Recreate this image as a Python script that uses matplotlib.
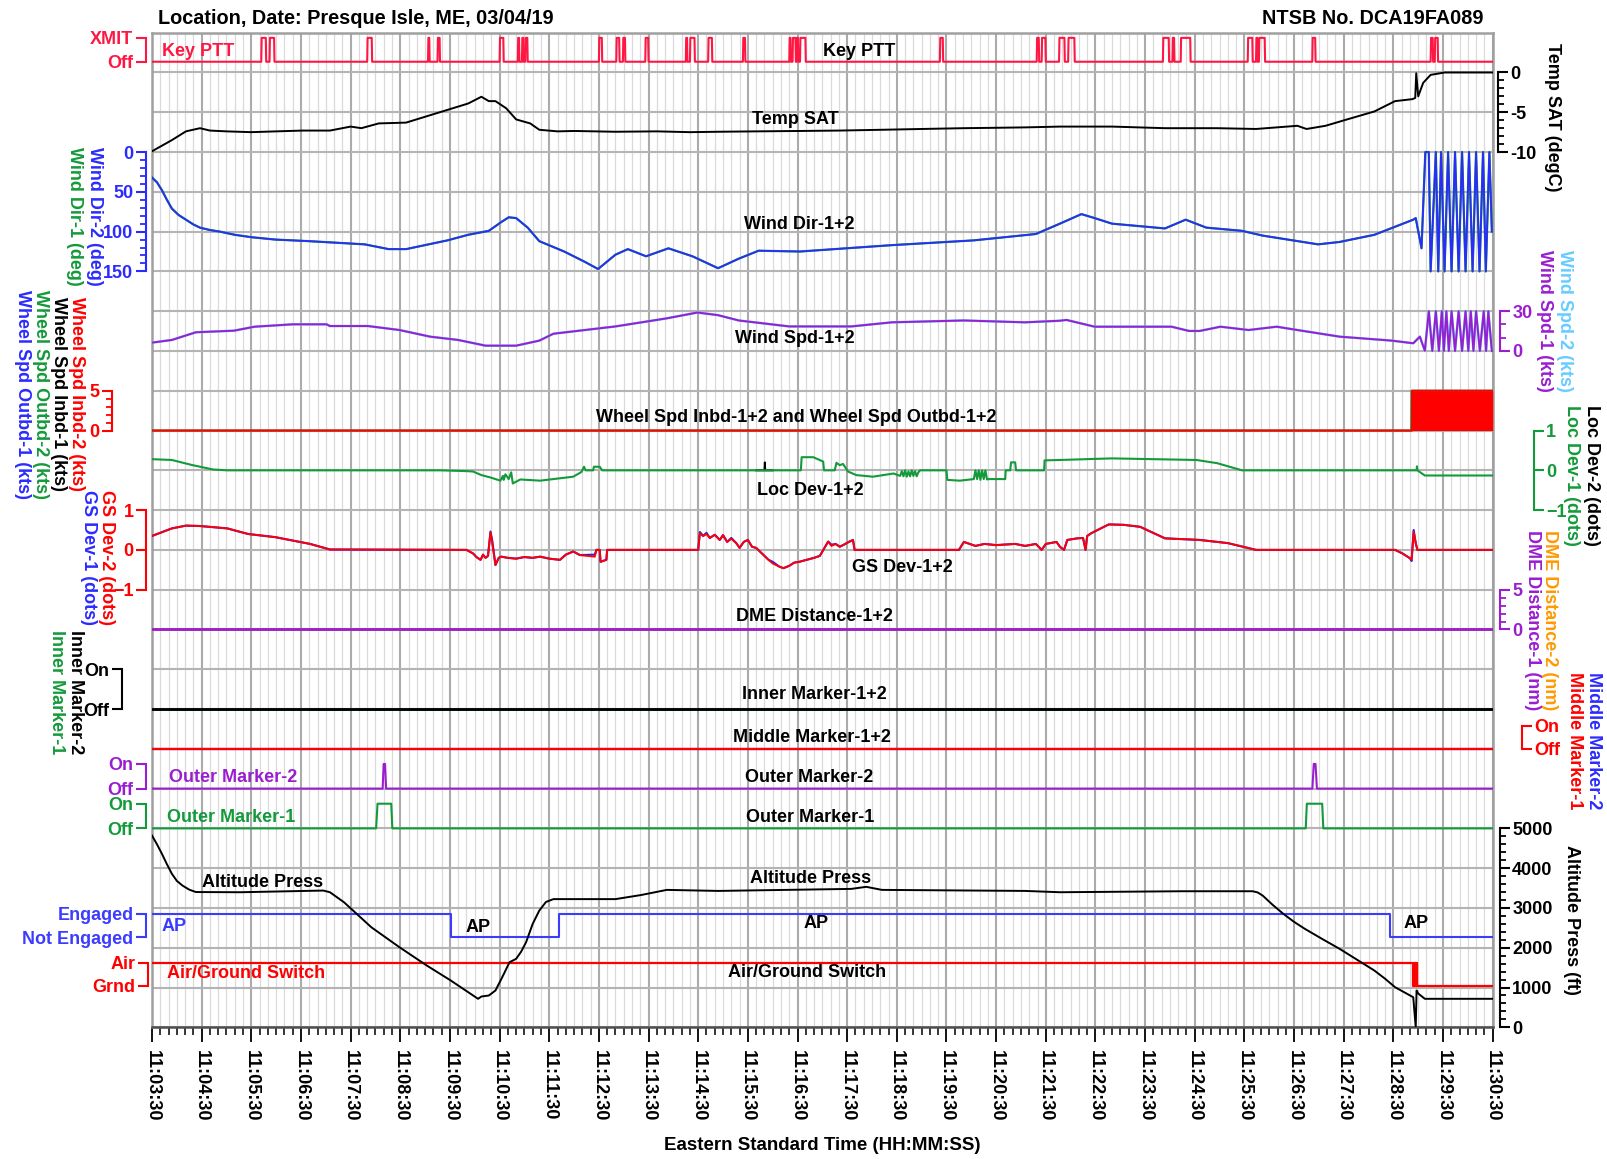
import numpy as np
import matplotlib.pyplot as plt

plt.rcParams['font.family'] = ['Liberation Sans', 'DejaVu Sans']
plt.rcParams['font.weight'] = 'bold'
plt.rcParams['font.size'] = 13

# ---------------- data (time = seconds after 11:00:00 EST) ----------------
time_labels = ['11:%02d:30' % m for m in range(3, 31)]

ptt_on = [342, 352, 470, 543.5, 555, 630, 652, 657, 661, 750, 771, 779, 806, 855, 860, 882,
          924, 980, 984, 989, 993, 1162, 1279, 1285, 1306, 1317, 1431.5, 1443, 1453, 1534,
          1544, 1547.5, 1612, 1755, 1760]
ptt_off = [348, 358, 476, 545.5, 558, 635, 654, 659, 664, 754, 775, 782, 810, 857, 866, 887,
           927, 982, 988, 991, 1000, 1166, 1282, 1290, 1313, 1325, 1439, 1445.5, 1465, 1540,
           1546, 1555, 1616, 1758, 1764]

temp_t = [210, 222, 234, 251, 268, 280, 300, 330, 360, 392, 425, 450, 463, 484, 517, 542, 567,
          592, 608, 617, 625, 638, 650, 667, 678, 700, 720, 770, 820, 860, 894, 940, 993, 1040,
          1092, 1140, 1191, 1230, 1265, 1307, 1370, 1434, 1497, 1544, 1569, 1594, 1605, 1628,
          1654, 1687, 1712, 1733, 1736.4, 1737.6, 1740, 1746, 1755, 1772, 1830]
temp_sat = [-9.9, -9.2, -8.5, -7.4, -7.0, -7.3, -7.4, -7.5, -7.4, -7.3, -7.3, -6.8, -7.0, -6.4,
            -6.3, -5.5, -4.7, -3.9, -3.05, -3.6, -3.6, -4.5, -5.9, -6.4, -7.2, -7.4, -7.35,
            -7.45, -7.4, -7.5, -7.45, -7.4, -7.35, -7.3, -7.2, -7.1, -7.0, -6.95, -6.9, -6.8,
            -6.8, -7.0, -7.0, -7.1, -6.9, -6.7, -7.1, -6.7, -5.9, -4.9, -3.6, -3.35, -3.2, -0.1,
            -3.0, -1.3, -0.3, 0.0, 0.0]

wdir_t = [210, 216, 222, 228, 234, 242, 251, 260, 268, 280, 292, 310, 330, 359, 400, 467, 496,
          517, 567, 592, 617, 632, 641, 650, 664, 678, 708, 733, 749, 770, 785, 807, 834, 863,
          894, 919, 943, 993, 1104, 1203, 1278, 1307, 1333, 1349, 1370, 1434, 1459, 1484, 1527,
          1552, 1619, 1645, 1687, 1734, 1737, 1744, 1748.6, 1752.8, 1755, 1761.3, 1764.2,
          1767.6, 1771.8, 1776.1, 1780.3, 1784.5, 1788.8, 1793, 1797.2, 1801.4, 1805.7, 1809.9,
          1814.1, 1818.3, 1821.7, 1826, 1829]
wind_dir = [32, 38, 48, 60, 71, 79, 85, 91, 95, 98, 100, 104, 107, 110, 112, 116, 122, 122,
            111, 104, 99, 88, 82, 83, 95, 112, 125, 138, 147, 129, 122, 131, 121, 131, 146, 134,
            124, 125, 117, 111, 103, 90, 78, 83, 90, 96, 85, 95, 99, 105, 116, 113, 104, 85, 83,
            121, 0, 0, 150, 0, 150, 0, 150, 0, 150, 0, 150, 0, 150, 0, 150, 0, 150, 0, 150, 0,
            100]

wspd_t = [210, 234, 263, 309, 334, 380, 421, 425, 471, 509, 546, 580, 613, 650, 678, 695, 770,
          832, 869, 894, 919, 980, 1055, 1104, 1191, 1265, 1307, 1315, 1349, 1442, 1463, 1476,
          1501, 1535, 1569, 1594, 1645, 1708, 1734, 1742, 1748, 1752.8, 1757, 1761.3, 1765,
          1768.5, 1771, 1774, 1777, 1780.3, 1784.5, 1788.8, 1793, 1797.2, 1800.5, 1803.5,
          1806.7, 1809.9, 1814.5, 1819.2, 1822, 1824.7, 1829]
wind_spd = [6.3, 8.3, 14.1, 15.3, 18.3, 20.1, 20.1, 18.8, 18.8, 15.8, 10.8, 8.3, 4.0, 4.0, 7.8,
            13, 18.5, 24.6, 29, 27, 23, 18.5, 18.5, 21.6, 23, 21.6, 22.8, 23.4, 18.3, 18.3, 15.1,
            15.1, 18.3, 15.8, 18.3, 15.8, 10.8, 7.8, 5.8, 10.8, 0.2, 30, 0, 30, 0, 30, 0, 30, 0,
            30, 0, 30, 0, 30, 0, 30, 0, 30, 0, 30, 0, 30, 0]

wheel_t = [210, 1732.5, 1732.6, 1830]
wheel_inbd2 = [0, 0, 5, 5]
wheel_outbd2_t = [210, 1731.5, 1731.8, 1830]
wheel_outbd2 = [0, 0, 5, 5]

loc_t = [210, 234, 259, 284, 301, 558, 590, 598, 608, 619, 631, 634, 635, 637, 641, 644, 646,
         655, 679, 719, 729, 732, 734, 743, 744, 751, 754, 994, 995, 1009, 1021, 1022, 1035,
         1037, 1041, 1045, 1051, 1061, 1081, 1106, 1114, 1116, 1118, 1120, 1122, 1124, 1126,
         1128, 1130, 1132, 1134, 1136, 1138, 1170, 1171, 1186, 1203, 1205, 1207, 1209, 1211,
         1213, 1215, 1217, 1219, 1221, 1241, 1241.5, 1247, 1248, 1253, 1254, 1288, 1288.5,
         1307, 1370, 1472, 1497, 1527, 1738, 1738.5, 1739, 1748, 1830]
loc_dev1 = [0.28, 0.26, 0.13, 0.02, 0.0, 0.0, -0.02, -0.03, -0.12, -0.18, -0.26, -0.14, -0.24,
            -0.1, -0.22, -0.05, -0.33, -0.23, -0.26, -0.16, -0.04, 0.09, 0.0, 0.0, 0.09, 0.09,
            0.0, 0.0, 0.33, 0.33, 0.22, 0.0, 0.0, 0.19, 0.13, 0.16, -0.03, -0.12, -0.16, -0.08,
            -0.14, -0.02, -0.15, 0.0, -0.16, -0.03, -0.15, 0.0, -0.14, -0.02, -0.15, -0.05, 0.0,
            0.0, -0.24, -0.26, -0.22, 0.0, -0.22, 0.0, -0.24, 0.0, -0.22, 0.0, -0.23, -0.22,
            -0.22, 0.0, 0.0, 0.2, 0.2, 0.0, 0.0, 0.25, 0.26, 0.30, 0.26, 0.18, 0.0, 0.0, 0.1,
            0.0, -0.13, -0.13]
loc2_t = [940, 950, 950.5, 951, 960]
loc_dev2 = [0, 0, 0.2, 0, 0]

gs_t = [210, 234, 251, 268, 301, 326, 359, 401, 425, 590, 598, 602, 607, 610, 613, 616, 619,
        621, 625, 629, 632, 640, 650, 660, 670, 679, 690, 703, 710, 719, 727, 745, 747, 751,
        752, 759, 760, 870, 872, 876, 880, 884, 890, 896, 900, 905, 910, 916, 920, 925, 930,
        935, 940, 945, 950, 955, 960, 968, 973, 980, 986, 992, 1001, 1010, 1017, 1027, 1031,
        1036, 1041, 1045, 1052, 1057, 1059, 1185, 1191, 1205, 1216, 1230, 1253, 1265, 1278,
        1285, 1290, 1303, 1307, 1312, 1316, 1328, 1335, 1338, 1340, 1345, 1366, 1384, 1404,
        1434, 1476, 1510, 1544, 1712, 1721, 1730, 1732, 1734.5, 1737, 1739, 1830]
gs_dev2 = [0.35, 0.54, 0.61, 0.60, 0.54, 0.40, 0.32, 0.15, 0.01, 0.0, -0.09, -0.18, -0.25,
           -0.12, -0.2, -0.15, 0.44, 0.2, -0.38, -0.2, -0.17, -0.2, -0.22, -0.18, -0.2, -0.17,
           -0.22, -0.25, -0.12, -0.04, -0.13, -0.17, 0.0, 0.0, -0.3, -0.25, 0.0, 0.0, 0.42,
           0.35, 0.4, 0.3, 0.38, 0.25, 0.37, 0.2, 0.28, 0.17, 0.05, 0.2, 0.25, 0.08, 0.05,
           -0.05, -0.15, -0.25, -0.34, -0.42, -0.46, -0.4, -0.32, -0.3, -0.25, -0.2, -0.15,
           0.21, 0.1, 0.15, 0.08, 0.12, 0.2, 0.25, 0.0, 0.0, 0.2, 0.1, 0.15, 0.12, 0.15, 0.1,
           0.15, 0.0, 0.15, 0.2, 0.08, 0.0, 0.25, 0.29, 0.3, 0.0, 0.35, 0.42, 0.64, 0.63, 0.58,
           0.29, 0.25, 0.17, 0.0, 0.0, -0.09, -0.21, -0.25, 0.46, 0.17, 0.0, 0.0]
gs_dev1 = [0.35, 0.54, 0.61, 0.60, 0.54, 0.40, 0.32, 0.15, 0.01, 0.0, -0.09, -0.18, -0.25,
           -0.12, -0.2, -0.15, 0.46, 0.25, -0.38, -0.2, -0.17, -0.2, -0.22, -0.18, -0.2, -0.17,
           -0.22, -0.25, -0.12, -0.04, -0.13, -0.12, 0.0, 0.0, -0.3, -0.25, 0.0, 0.0, 0.45,
           0.35, 0.43, 0.3, 0.38, 0.25, 0.37, 0.2, 0.3, 0.17, 0.05, 0.2, 0.25, 0.08, 0.05,
           -0.05, -0.15, -0.25, -0.3, -0.42, -0.46, -0.4, -0.32, -0.3, -0.25, -0.2, -0.15,
           0.21, 0.13, 0.15, 0.08, 0.12, 0.2, 0.25, 0.0, 0.0, 0.2, 0.1, 0.15, 0.12, 0.15, 0.1,
           0.15, 0.0, 0.15, 0.2, 0.08, 0.0, 0.25, 0.29, 0.3, 0.0, 0.35, 0.42, 0.64, 0.63, 0.58,
           0.29, 0.25, 0.17, 0.0, 0.0, -0.09, -0.21, -0.28, 0.5, 0.17, 0.0, 0.0]

flat_t = [210, 1830]
dme_dist = [0, 0]
inner_marker = [0, 0]
middle_marker = [0, 0]

om2_t = [210, 488.7, 489.9, 491.6, 492.9, 1612.1, 1613.8, 1615.9, 1617.6, 1830]
outer_marker2 = [0, 0, 1, 1, 0, 0, 1, 1, 0, 0]
om1_t = [210, 480.8, 482.5, 499.1, 500.4, 1604.1, 1605.4, 1624.0, 1625.3, 1830]
outer_marker1 = [0, 0, 1, 1, 0, 0, 1, 1, 0, 0]

alt_t = [210, 216, 222, 228, 234, 240, 247, 255, 263, 317, 417, 425, 442, 475, 509, 542, 571,
         604, 608, 617, 625, 633, 642, 650, 656, 662, 670, 678, 686, 695, 770, 801, 832, 894,
         1055, 1073, 1092, 1265, 1307, 1455, 1540, 1546, 1552, 1564, 1577, 1590, 1603, 1624,
         1645, 1666, 1687, 1700, 1712, 1724, 1734, 1737, 1738, 1740, 1748, 1830]
alt_press = [4820, 4600, 4360, 4100, 3860, 3680, 3560, 3460, 3400, 3395, 3437, 3395, 3143, 2515,
             2013, 1553, 1176, 716, 774, 799, 925, 1250, 1636, 1721, 1900, 2138, 2600, 2935,
             3150, 3222, 3222, 3325, 3454, 3428, 3479, 3531, 3454, 3428, 3395, 3420, 3420, 3390,
             3312, 3080, 2852, 2650, 2475, 2220, 1972, 1700, 1427, 1220, 1008, 870, 756, 0, 925,
             850, 716, 716]

ap_t = [210, 571, 702, 1706, 1830]
ap_engaged = [1, 0, 1, 0, 0]

gnd_t = [210, 1734, 1734.8, 1735.6, 1736.4, 1737.2, 1738, 1738.8, 1830]
air_ground = [1, 0, 1, 0, 1, 0, 1, 0, 0]

# ---------------- colours ----------------
KEYRED = '#ff1744'
RED = '#ff0000'
BLUE = '#2b2bff'
APBLUE = '#3c3cff'
GREEN = '#139a3a'
PURPLE = '#9a1ed0'
LTBLUE = '#66ccff'
ORANGE = '#ff9900'
BLACK = '#000000'

# ---------------- layout ----------------
W, H = 1608, 1159
L, R, T, B = 152, 1492.7, 32.7, 1027.3
ROWS = 25
T0, T1 = 210, 1830

fig = plt.figure(figsize=(W / 100, H / 100), dpi=100)
rect = [L / W, 1 - B / H, (R - L) / W, (B - T) / H]
ax = fig.add_axes(rect)
ax.set_xlim(T0, T1)
ax.set_ylim(ROWS, 0)
ax.set_xticks(np.arange(T0, T1 + 1, 60))
ax.set_xticks(np.arange(T0, T1 + 1, 10), minor=True)
ax.set_xticklabels(time_labels, rotation=-90, fontsize=13)
ax.set_yticks(np.arange(0, ROWS + 1))
ax.tick_params(axis='y', left=False, labelleft=False)
ax.tick_params(axis='x', which='major', length=11, width=1.3, pad=5, color='black')
ax.tick_params(axis='x', which='minor', length=6, width=1.1, color='black')
ax.grid(axis='x', which='major', color='#ababab', lw=1.5)
ax.grid(axis='x', which='minor', color='#dadada', lw=0.9)
ax.grid(axis='y', which='major', color='#b4b4b4', lw=1.5)
for s in ax.spines.values():
    s.set_color('#a0a0a0')
    s.set_linewidth(1.8)
ax.spines['bottom'].set_color('#505050')


def band(v1, r1, v2, r2, side, color, out_px, ticks, labels=None, minor=None):
    a = fig.add_axes(rect, sharex=ax)
    a.patch.set_visible(False)
    s = (v2 - v1) / (r2 - r1)
    a.set_ylim(v1 + s * (ROWS - r1), v1 + s * (0 - r1))
    for k in a.spines:
        a.spines[k].set_visible(False)
    sp = a.spines[side]
    sp.set_visible(True)
    sp.set_position(('outward', out_px * 0.72))
    sp.set_bounds(min(v1, v2), max(v1, v2))
    sp.set_color(color)
    sp.set_linewidth(1.5)
    a.yaxis.set_ticks_position(side)
    a.set_yticks(ticks)
    if labels is not None:
        a.set_yticklabels(labels)
    if minor is not None:
        a.set_yticks(minor, minor=True)
    a.tick_params(axis='y', which='major', colors=color, length=7, width=1.5, pad=2,
                  labelsize=13)
    a.tick_params(axis='y', which='minor', colors=color, length=4, width=1.3)
    a.tick_params(axis='x', which='both', bottom=False, top=False, labelbottom=False)
    return a


# Key PTT
a = band(0, 0.73, 1, 0.13, 'left', KEYRED, 6, [0, 1], ['Off', 'XMIT'])
pt, pv = [T0], [0]
for on, off in zip(ptt_on, ptt_off):
    pt += [on, on + 0.5, off - 0.5, off]
    pv += [0, 1, 1, 0]
pt.append(T1)
pv.append(0)
a.plot(pt, pv, color=KEYRED, lw=1.5)

# Temp SAT
a = band(0, 1, -10, 3, 'right', BLACK, 5, [0, -5, -10], ['0', '-5', '-10'],
         minor=np.arange(-9, 0))
a.plot(temp_t, temp_sat, color=BLACK, lw=1.4)

# Wind Dir
a = band(0, 3, 150, 6, 'left', BLUE, 6, [0, 50, 100, 150], minor=np.arange(10, 150, 10))
a.plot(wdir_t, wind_dir, color=GREEN, lw=1.6)
a.plot(wdir_t, wind_dir, color=BLUE, lw=1.3)

# Wind Spd
a = band(0, 8, 30, 7, 'right', PURPLE, 7, [0, 30], minor=[10, 20])
a.plot(wspd_t, wind_spd, color=LTBLUE, lw=1.8)
a.plot(wspd_t, wind_spd, color=PURPLE, lw=1.4)

# Wheel speeds
a = band(0, 10, 5, 9, 'left', RED, 40, [0, 5], minor=[1, 2, 3, 4])
a.plot(wheel_outbd2_t, wheel_outbd2, color=GREEN, lw=1.5)
a.fill_between(wheel_t, 0, wheel_inbd2, color=RED, lw=0)
a.plot(wheel_t, wheel_inbd2, color=RED, lw=1.5)

# Loc Dev
a = band(1, 10, -1, 12, 'right', GREEN, 41, [-1, 0, 1])
a.plot(loc2_t, loc_dev2, color=BLACK, lw=1.4)
a.plot(loc_t, loc_dev1, color=GREEN, lw=1.5)

# GS Dev
a = band(1, 12, -1, 14, 'left', RED, 6, [-1, 0, 1])
a.plot(gs_t, gs_dev1, color='#1f1fff', lw=1.5)
a.plot(gs_t, gs_dev2, color=RED, lw=1.4)

# DME Distance
a = band(0, 15, 5, 14, 'right', PURPLE, 7, [0, 5], minor=[1, 2, 3, 4])
a.plot(flat_t, dme_dist, color=ORANGE, lw=2)
a.plot(flat_t, dme_dist, color=PURPLE, lw=2)

# Inner Marker
a = band(0, 17, 1, 16, 'left', BLACK, 30, [0, 1], ['Off', 'On'])
a.plot(flat_t, inner_marker, color=GREEN, lw=2)
a.plot(flat_t, inner_marker, color=BLACK, lw=2)

# Middle Marker
a = band(0, 18, 1, 17.42, 'right', RED, 29, [0, 1], ['Off', 'On'])
a.plot(flat_t, middle_marker, color=BLUE, lw=1.6)
a.plot(flat_t, middle_marker, color=RED, lw=1.6)

# Outer Markers
a = band(0, 19, 1, 18.38, 'left', PURPLE, 6, [0, 1], ['Off', 'On'])
a.plot(om2_t, outer_marker2, color=PURPLE, lw=1.5)
a = band(0, 20, 1, 19.38, 'left', GREEN, 6, [0, 1], ['Off', 'On'])
a.plot(om1_t, outer_marker1, color=GREEN, lw=1.5)

# AP
a = band(0, 22.74, 1, 22.15, 'left', APBLUE, 6, [0, 1], ['Not Engaged', 'Engaged'])
a.step(ap_t, ap_engaged, where='post', color=APBLUE, lw=1.5)

# Air/Ground
a = band(0, 23.95, 1, 23.38, 'left', RED, 4, [0, 1], ['Grnd', 'Air'])
a.step(gnd_t, air_ground, where='post', color=RED, lw=1.6)

# Altitude Press
a = band(0, 25, 5000, 20, 'right', BLACK, 7, np.arange(0, 5001, 1000),
         minor=np.arange(200, 5000, 200))
a.plot(alt_t, alt_press, color=BLACK, lw=1.4)

# ---------------- labels inside the plot ----------------
inside = [
    ('Key PTT', 222, 0.47, KEYRED, 'left'),
    ('Key PTT', 1064, 0.47, BLACK, 'center'),
    ('Temp SAT', 987, 2.19, BLACK, 'center'),
    ('Wind Dir-1+2', 992, 4.82, BLACK, 'center'),
    ('Wind Spd-1+2', 987, 7.69, BLACK, 'center'),
    ('Wheel Spd Inbd-1+2 and Wheel Spd Outbd-1+2', 989, 9.67, BLACK, 'center'),
    ('Loc Dev-1+2', 1005, 11.5, BLACK, 'center'),
    ('GS Dev-1+2', 1117, 13.44, BLACK, 'center'),
    ('DME Distance-1+2', 1011, 14.68, BLACK, 'center'),
    ('Inner Marker-1+2', 1010, 16.63, BLACK, 'center'),
    ('Middle Marker-1+2', 1008, 17.72, BLACK, 'center'),
    ('Outer Marker-2', 230, 18.72, PURPLE, 'left'),
    ('Outer Marker-2', 1004, 18.72, BLACK, 'center'),
    ('Outer Marker-1', 228, 19.73, GREEN, 'left'),
    ('Outer Marker-1', 1005, 19.73, BLACK, 'center'),
    ('Altitude Press', 343, 21.35, BLACK, 'center'),
    ('Altitude Press', 1006, 21.27, BLACK, 'center'),
    ('AP', 237, 22.46, APBLUE, 'center'),
    ('AP', 604, 22.5, BLACK, 'center'),
    ('AP', 1012, 22.38, BLACK, 'center'),
    ('AP', 1737, 22.38, BLACK, 'center'),
    ('Air/Ground Switch', 228, 23.65, RED, 'left'),
    ('Air/Ground Switch', 1001, 23.62, BLACK, 'center'),
]
for txt, x, r, c, ha in inside:
    ax.text(x, r, txt, color=c, ha=ha, va='center', fontsize=13)

# ---------------- rotated axis titles ----------------
rotated = [
    ('Wind Dir-2 (deg)', 94, 216, BLUE),
    ('Wind Dir-1 (deg)', 74, 216, GREEN),
    ('Wheel Spd Inbd-2 (kts)', 76, 394, RED),
    ('Wheel Spd Inbd-1 (kts)', 58, 394, BLACK),
    ('Wheel Spd Outbd-2 (kts)', 40, 394, GREEN),
    ('Wheel Spd Outbd-1 (kts)', 22, 394, BLUE),
    ('GS Dev-2 (dots)', 106, 558, RED),
    ('GS Dev-1 (dots)', 89, 558, BLUE),
    ('Inner Marker-2', 75, 692, BLACK),
    ('Inner Marker-1', 57, 692, GREEN),
    ('Temp SAT (degC)', 1553, 117, BLACK),
    ('Wind Spd-2 (kts)', 1565, 321, LTBLUE),
    ('Wind Spd-1 (kts)', 1545, 321, PURPLE),
    ('Loc Dev-2 (dots)', 1592, 475, BLACK),
    ('Loc Dev-1 (dots)', 1572, 475, GREEN),
    ('DME Distance-2 (nm)', 1550, 620, ORANGE),
    ('DME Distance-1 (nm)', 1533, 620, PURPLE),
    ('Middle Marker-2', 1594, 741, BLUE),
    ('Middle Marker-1', 1575, 741, RED),
    ('Altitude Press (ft)', 1572, 920, BLACK),
]
for txt, x, y, c in rotated:
    fig.text(x / W, 1 - y / H, txt, color=c, rotation=-90, ha='center', va='center',
             fontsize=13)

fig.text(158 / W, 1 - 18 / H, 'Location, Date: Presque Isle, ME, 03/04/19', ha='left',
         va='center', fontsize=14.3)
fig.text(1484 / W, 1 - 18 / H, 'NTSB No. DCA19FA089', ha='right', va='center', fontsize=14.3)
fig.text(822 / W, 1 - 1146 / H, 'Eastern Standard Time (HH:MM:SS)', ha='center', va='center',
         fontsize=13.5)

fig.savefig('out.png', dpi=100)
